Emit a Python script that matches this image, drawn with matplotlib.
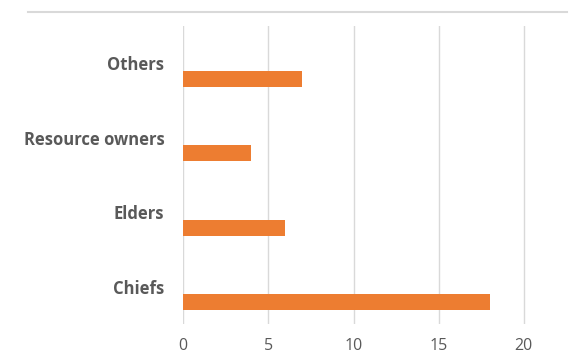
import matplotlib
matplotlib.use("Agg")
import matplotlib.pyplot as plt
from matplotlib.lines import Line2D

categories = ["Chiefs", "Elders", "Resource owners", "Others"]
values = [18, 6, 4, 7]
xticks = [0, 5, 10, 15, 20]

plt.rcParams['font.family'] = ['Open Sans', 'DejaVu Sans']

W, H = 584, 362
fig = plt.figure(figsize=(W / 100, H / 100), dpi=100)
left, right, top, bottom = 183.3, 566.3, 26, 324
ax = fig.add_axes([left / W, 1 - bottom / H, (right - left) / W, (bottom - top) / H])

pos = list(range(len(categories)))
bar_h = 0.215
ax.barh([p - 0.208 for p in pos], values, height=bar_h, color="#ED7D31", zorder=3)

ax.set_xlim(0, 22.5)
ax.set_ylim(-0.5, len(categories) - 0.5)
ax.set_xticks(xticks)
ax.set_xticklabels([str(t) for t in xticks], color="#595959", fontsize=11.5)
ax.set_yticks(pos)
ax.set_yticklabels(categories, color="#595959", fontsize=12, fontweight="bold")
ax.tick_params(axis="both", length=0)
ax.tick_params(axis="x", pad=10)
ax.tick_params(axis="y", pad=13.7)
for s in ax.spines.values():
    s.set_visible(False)
ax.grid(axis="x", color="#D9D9D9", linewidth=1, zorder=0)
ax.grid(axis="y", visible=False)

fig.add_artist(Line2D([28 / W, 566.7 / W], [1 - 12 / H, 1 - 12 / H],
                      color="#D9D9D9", linewidth=1.5, transform=fig.transFigure))

fig.savefig("out.png", dpi=100)
